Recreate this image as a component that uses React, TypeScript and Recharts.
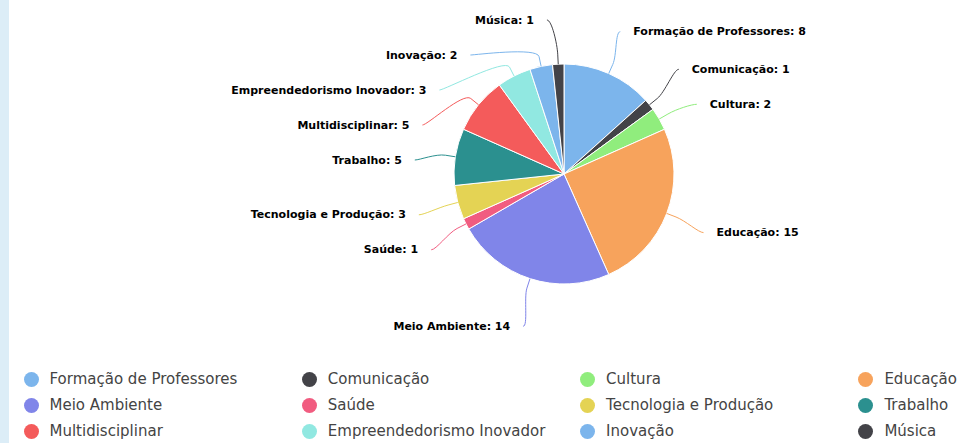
import React from 'react';
import { PieChart, Pie, Cell, Legend } from 'recharts';

// projects per theme
const categories = [
  'Formação de Professores',
  'Comunicação',
  'Cultura',
  'Educação',
  'Meio Ambiente',
  'Saúde',
  'Tecnologia e Produção',
  'Trabalho',
  'Multidisciplinar',
  'Empreendedorismo Inovador',
  'Inovação',
  'Música',
];
const counts = [8, 1, 2, 15, 14, 1, 3, 5, 5, 3, 2, 1];
const colors = [
  '#7cb5ec', '#434348', '#90ed7d', '#f7a35c', '#8085e9', '#f15c80',
  '#e4d354', '#2b908f', '#f45b5b', '#91e8e1', '#7cb5ec', '#434348',
];

const data = categories.map((name, i) => ({ name, value: counts[i] }));

const CX = 564;
const CY = 174;
const R = 110;
const RX = R + 48;
const RY = R + 48;
const GAP = 35;
const TOP = 18;
const SHIFT = 2;

type LabelPos = { i: number; theta: number; left: boolean; natural: number; y: number; xoff: number };

// highcharts-ish label placement: natural spot on an ellipse, then push overlapping ones apart
const layoutLabels = (): LabelPos[] => {
  const total = counts.reduce((a, b) => a + b, 0);
  let acc = 0;
  const items: LabelPos[] = counts.map((v, i) => {
    const theta = ((acc + v / 2) / total) * 2 * Math.PI;
    acc += v;
    return { i, theta, left: Math.sin(theta) < 0, natural: -RY * Math.cos(theta), y: 0, xoff: 0 };
  });
  [true, false].forEach((side) => {
    const list = items.filter((it) => it.left === side).sort((a, b) => a.natural - b.natural);
    const clusters = list.map((it) => ({ members: [it], top: Math.max(it.natural, TOP - CY) }));
    let changed = true;
    while (changed) {
      changed = false;
      for (let k = 0; k < clusters.length - 1; k++) {
        const a = clusters[k];
        const b = clusters[k + 1];
        if (a.top + a.members.length * GAP > b.top) {
          const members = [...a.members, ...b.members];
          let top = members.reduce((s, m, j) => s + m.natural - j * GAP, 0) / members.length;
          top = Math.max(top, TOP - CY);
          clusters.splice(k, 2, { members, top });
          changed = true;
          break;
        }
      }
    }
    clusters.forEach((c) => c.members.forEach((m, j) => (m.y = c.top + j * GAP)));
  });
  items.forEach((it) => {
    const s = Math.max(-1, Math.min(1, it.y / RY));
    it.xoff = Math.max(RX * Math.abs(Math.sin(it.theta)), RX * Math.cos(Math.asin(s)));
  });
  return items;
};

const labels = layoutLabels();

const renderLabel = (props: any) => {
  const idx = props.index ?? categories.indexOf(props.name);
  const p = labels[idx];
  if (!p) return null;
  const color = colors[idx];
  const dir = p.left ? -1 : 1;
  const y = CY + p.y + SHIFT;
  const endX = CX + dir * (p.xoff - 8);
  const textX = CX + dir * (p.xoff + 5);
  const sx = Math.sin(p.theta);
  const sy = -Math.cos(p.theta);
  const touch = { x: CX + R * sx, y: CY + R * sy };
  const brk = { x: CX + (R + 10) * sx, y: CY + (R + 10) * sy };
  const d = `M ${endX} ${y} C ${endX - dir * 5} ${y} ${2 * brk.x - touch.x} ${2 * brk.y - touch.y} ${brk.x} ${brk.y} L ${touch.x} ${touch.y}`;
  return (
    <g key={`lbl-${idx}`}>
      <path d={d} stroke={color} strokeWidth={1} fill="none" />
      <text
        x={textX}
        y={y}
        textAnchor={p.left ? 'end' : 'start'}
        dominantBaseline="central"
        fontSize={11}
        fontWeight="bold"
        fontFamily="'DejaVu Sans', sans-serif"
        fill="#000"
      >
        {`${categories[idx]}: ${counts[idx]}`}
      </text>
    </g>
  );
};

// legend keeps the data order, 4 columns
const renderLegend = () => (
  <div style={{ position: 'relative', width: 961, height: 78 }}>
    {data.map((entry, i) => {
      const col = i % 4;
      const row = Math.floor(i / 4);
      return (
        <div
          key={`leg-${i}`}
          style={{
            position: 'absolute',
            left: 23.5 + col * 278.3,
            top: row * 26,
            height: 16,
            display: 'flex',
            alignItems: 'center',
            whiteSpace: 'nowrap',
          }}
        >
          <span
            style={{
              display: 'inline-block',
              width: 15,
              height: 15,
              borderRadius: '50%',
              background: colors[i],
              marginRight: 11,
            }}
          />
          <span style={{ fontSize: 15, color: '#444', fontFamily: "'DejaVu Sans', sans-serif" }}>{entry.name}</span>
        </div>
      );
    })}
  </div>
);

export default function App() {
  return (
    <div style={{ position: 'absolute', left: 0, top: 0, width: 961, height: 443, background: '#fff', overflow: 'hidden' }}>
      <div style={{ position: 'absolute', left: 0, top: 0, width: 9, height: 443, background: '#dcedf7' }} />
      <PieChart width={961} height={443} margin={{ top: 0, right: 0, bottom: 0, left: 0 }}>
        <Pie
          data={data}
          dataKey="value"
          nameKey="name"
          cx={CX}
          cy={CY}
          outerRadius={R}
          startAngle={90}
          endAngle={-270}
          stroke="#fff"
          strokeWidth={1}
          label={renderLabel}
          labelLine={false}
          isAnimationActive={false}
        >
          {data.map((d, i) => (
            <Cell key={d.name} fill={colors[i]} />
          ))}
        </Pie>
        <Legend content={renderLegend} wrapperStyle={{ position: 'absolute', left: 0, top: 371, width: 961 }} />
      </PieChart>
    </div>
  );
}
